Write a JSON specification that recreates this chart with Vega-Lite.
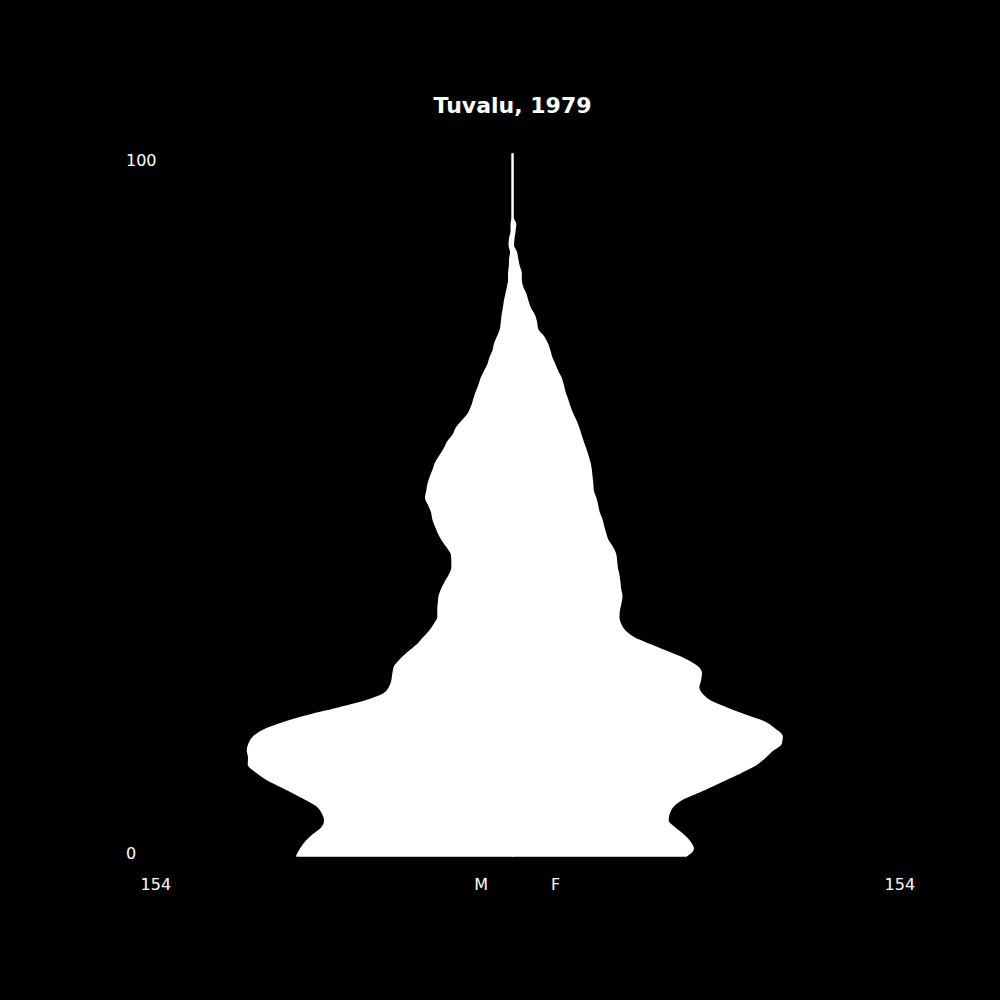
{
  "$schema": "https://vega.github.io/schema/vega-lite/v6.json",
  "width": 1000,
  "height": 1000,
  "autosize": {"type": "fit", "contains": "padding"},
  "padding": 0,
  "background": "black",
  "config": {"view": {"stroke": null}},
  "datasets": {
    "pyramid": [
      {"age": 0, "male": 85.8, "female": 69.2},
      {"age": 1, "male": 84.3, "female": 71.9},
      {"age": 2, "male": 82.2, "female": 70.5},
      {"age": 3, "male": 79.3, "female": 67.8},
      {"age": 4, "male": 75.8, "female": 64.4},
      {"age": 5, "male": 74.7, "female": 61.8},
      {"age": 6, "male": 75.5, "female": 62.2},
      {"age": 7, "male": 77.4, "female": 63.7},
      {"age": 8, "male": 81.9, "female": 67.1},
      {"age": 9, "male": 87.2, "female": 73.3},
      {"age": 10, "male": 92.8, "female": 79.6},
      {"age": 11, "male": 98.2, "female": 85.5},
      {"age": 12, "male": 102.2, "female": 91.4},
      {"age": 13, "male": 105.1, "female": 96.8},
      {"age": 14, "male": 105.0, "female": 100.4},
      {"age": 15, "male": 105.5, "female": 103.3},
      {"age": 16, "male": 104.8, "female": 106.9},
      {"age": 17, "male": 102.9, "female": 107.3},
      {"age": 18, "male": 98.3, "female": 104.5},
      {"age": 19, "male": 90.6, "female": 100.4},
      {"age": 20, "male": 80.9, "female": 92.7},
      {"age": 21, "male": 69.4, "female": 85.3},
      {"age": 22, "male": 58.8, "female": 78.8},
      {"age": 23, "male": 51.4, "female": 75.4},
      {"age": 24, "male": 48.9, "female": 74.0},
      {"age": 25, "male": 47.9, "female": 74.7},
      {"age": 26, "male": 47.5, "female": 75.1},
      {"age": 27, "male": 46.8, "female": 73.3},
      {"age": 28, "male": 44.4, "female": 68.5},
      {"age": 29, "male": 41.4, "female": 61.8},
      {"age": 30, "male": 38.0, "female": 55.0},
      {"age": 31, "male": 35.5, "female": 48.4},
      {"age": 32, "male": 32.9, "female": 44.7},
      {"age": 33, "male": 31.0, "female": 42.9},
      {"age": 34, "male": 29.6, "female": 42.2},
      {"age": 35, "male": 29.6, "female": 42.4},
      {"age": 36, "male": 29.4, "female": 43.0},
      {"age": 37, "male": 29.1, "female": 43.4},
      {"age": 38, "male": 28.1, "female": 42.9},
      {"age": 39, "male": 26.7, "female": 42.6},
      {"age": 40, "male": 25.1, "female": 42.2},
      {"age": 41, "male": 24.0, "female": 41.6},
      {"age": 42, "male": 24.0, "female": 41.3},
      {"age": 43, "male": 24.2, "female": 40.9},
      {"age": 44, "male": 25.9, "female": 39.6},
      {"age": 45, "male": 27.9, "female": 37.8},
      {"age": 46, "male": 29.4, "female": 36.9},
      {"age": 47, "male": 30.6, "female": 36.1},
      {"age": 48, "male": 31.6, "female": 35.4},
      {"age": 49, "male": 32.1, "female": 34.3},
      {"age": 50, "male": 33.3, "female": 33.7},
      {"age": 51, "male": 34.5, "female": 33.0},
      {"age": 52, "male": 34.0, "female": 32.0},
      {"age": 53, "male": 33.5, "female": 31.8},
      {"age": 54, "male": 32.6, "female": 31.5},
      {"age": 55, "male": 31.5, "female": 31.2},
      {"age": 56, "male": 30.5, "female": 30.7},
      {"age": 57, "male": 28.8, "female": 29.9},
      {"age": 58, "male": 27.1, "female": 29.0},
      {"age": 59, "male": 25.7, "female": 28.0},
      {"age": 60, "male": 23.5, "female": 27.1},
      {"age": 61, "male": 22.2, "female": 26.2},
      {"age": 62, "male": 19.8, "female": 25.1},
      {"age": 63, "male": 17.5, "female": 23.8},
      {"age": 64, "male": 16.2, "female": 22.7},
      {"age": 65, "male": 15.3, "female": 21.8},
      {"age": 66, "male": 14.4, "female": 20.8},
      {"age": 67, "male": 13.3, "female": 20.1},
      {"age": 68, "male": 12.4, "female": 19.3},
      {"age": 69, "male": 11.1, "female": 17.9},
      {"age": 70, "male": 9.7, "female": 16.7},
      {"age": 71, "male": 8.8, "female": 15.5},
      {"age": 72, "male": 7.6, "female": 14.7},
      {"age": 73, "male": 7.0, "female": 13.7},
      {"age": 74, "male": 5.8, "female": 12.2},
      {"age": 75, "male": 4.7, "female": 9.9},
      {"age": 76, "male": 4.3, "female": 9.4},
      {"age": 77, "male": 4.0, "female": 8.6},
      {"age": 78, "male": 3.5, "female": 7.0},
      {"age": 79, "male": 3.1, "female": 6.0},
      {"age": 80, "male": 2.5, "female": 5.2},
      {"age": 81, "male": 1.9, "female": 3.9},
      {"age": 82, "male": 1.4, "female": 3.3},
      {"age": 83, "male": 1.4, "female": 3.3},
      {"age": 84, "male": 1.1, "female": 2.5},
      {"age": 85, "male": 1.0, "female": 1.9},
      {"age": 86, "male": 0.6, "female": 1.4},
      {"age": 87, "male": 1.2, "female": 0.2},
      {"age": 88, "male": 1.0, "female": 0.4},
      {"age": 89, "male": 0.4, "female": 0.8},
      {"age": 90, "male": 0.4, "female": 1.1},
      {"age": 91, "male": 0, "female": 0},
      {"age": 92, "male": 0, "female": 0},
      {"age": 93, "male": 0, "female": 0},
      {"age": 94, "male": 0, "female": 0},
      {"age": 95, "male": 0, "female": 0},
      {"age": 96, "male": 0, "female": 0},
      {"age": 97, "male": 0, "female": 0},
      {"age": 98, "male": 0, "female": 0},
      {"age": 99, "male": 0, "female": 0},
      {"age": 100, "male": 0, "female": 0}
    ],
    "labels": [
      {"label": "100", "pos": -154, "age": 98.3},
      {"label": "0", "pos": -154, "age": -0.5},
      {"label": "154", "pos": -148.2, "age": -4.9},
      {"label": "M", "pos": -15.3, "age": -4.9},
      {"label": "F", "pos": 15.3, "age": -4.9},
      {"label": "154", "pos": 148.2, "age": -4.9}
    ],
    "heading": [
      {"label": "Tuvalu, 1979", "pos": 0, "age": 105.9}
    ]
  },
  "layer": [
    {
      "data": {"name": "pyramid"},
      "mark": {"type": "area", "orient": "horizontal", "interpolate": "monotone", "color": "white", "stroke": "white", "strokeWidth": 2, "strokeJoin": "round"},
      "encoding": {
        "y": {"field": "age", "type": "quantitative", "scale": {"domain": [-20.55, 121.95], "nice": false}, "axis": null},
        "x": {"field": "male", "type": "quantitative", "scale": {"domain": [-194.2, 204.2], "reverse": true, "nice": false}, "axis": null},
        "x2": {"datum": 0}
      }
    },
    {
      "data": {"name": "pyramid"},
      "mark": {"type": "area", "orient": "horizontal", "interpolate": "monotone", "color": "white", "stroke": "white", "strokeWidth": 2, "strokeJoin": "round"},
      "encoding": {
        "y": {"field": "age", "type": "quantitative", "scale": {"domain": [-20.55, 121.95], "nice": false}, "axis": null},
        "x": {"field": "female", "type": "quantitative", "scale": {"domain": [-204.2, 194.2], "nice": false}, "axis": null},
        "x2": {"datum": 0}
      }
    },
    {
      "data": {"name": "labels"},
      "mark": {"type": "text", "align": "left", "baseline": "alphabetic", "font": "DejaVu Sans", "fontSize": 16, "color": "white"},
      "encoding": {
        "y": {"field": "age", "type": "quantitative", "scale": {"domain": [-20.55, 121.95], "nice": false}, "axis": null},
        "x": {"field": "pos", "type": "quantitative", "scale": {"domain": [-204.2, 194.2], "nice": false}, "axis": null},
        "text": {"field": "label"}
      }
    },
    {
      "data": {"name": "heading"},
      "mark": {"type": "text", "align": "center", "baseline": "alphabetic", "font": "DejaVu Sans", "fontSize": 22, "fontWeight": "bold", "color": "white"},
      "encoding": {
        "y": {"field": "age", "type": "quantitative", "scale": {"domain": [-20.55, 121.95], "nice": false}, "axis": null},
        "x": {"field": "pos", "type": "quantitative", "scale": {"domain": [-204.2, 194.2], "nice": false}, "axis": null},
        "text": {"field": "label"}
      }
    }
  ],
  "resolve": {"scale": {"x": "independent"}}
}
